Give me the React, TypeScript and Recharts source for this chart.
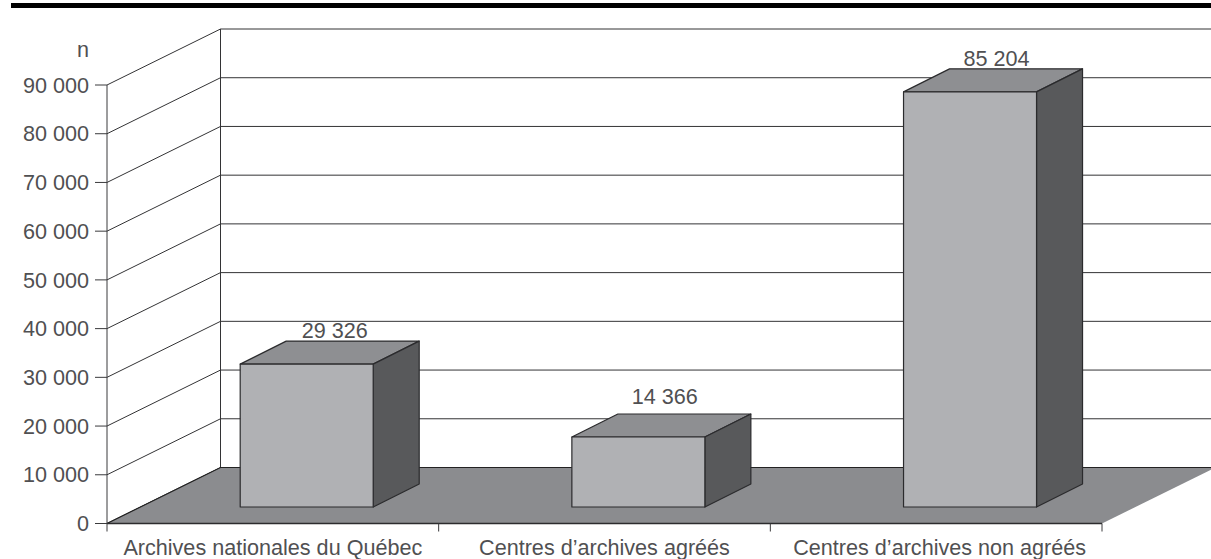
import React from "react";
import { BarChart, Bar, XAxis, YAxis, CartesianGrid, ReferenceArea, LabelList, Label } from "recharts";

const categories = ["Archives nationales du Québec", "Centres d’archives agréés", "Centres d’archives non agréés"];
const counts = [29326, 14366, 85204];
const yTicks = [0, 10000, 20000, 30000, 40000, 50000, 60000, 70000, 80000, 90000];
const unitLabel = "n";

const data = categories.map((name, i) => ({ name, value: counts[i] }));

const W = 1211, H = 559;
const LEFT = 107, RIGHT = 1102, TOP = 85, BOTTOM = 523.5;
const WALL_DX = 113.5, WALL_DY = 56;
const BAR_SHIFT_X = 34.2, BAR_SHIFT_Y = 16.5;
const BAR_DX = 46, BAR_DY = 23;
const INK = "#3a3a3c", LINE = "#333335", TEXT = "#505052";
const FONT = "'Liberation Sans', Arial, sans-serif";
const FS = 21.6;
const fmt = (v: number) => String(v).replace(/\B(?=(\d{3})+$)/g, " ");

function GridLine(p: any) {
  const { x1, y1, x2 } = p;
  const bx = x1 + WALL_DX, by = y1 - WALL_DY;
  return (
    <path key={p.key ?? y1} d={`M${x1},${y1}L${bx},${by}L${x2 + WALL_DX + 10},${by}`} fill="none" stroke={LINE} strokeWidth={1} />
  );
}

function Floor(p: any) {
  const { x, y, width, height } = p;
  const by = y + height, rx = x + width;
  return (
    <g>
      <line x1={x + WALL_DX} y1={y - WALL_DY} x2={x + WALL_DX} y2={by - WALL_DY} stroke={LINE} strokeWidth={1} />
      <path
        d={`M${x},${by}L${x + WALL_DX},${by - WALL_DY}L${rx + WALL_DX},${by - WALL_DY}L${rx},${by}Z`}
        fill="#8b8c8f"
        stroke="none"
      />
      <path d={`M${x},${by}L${x + WALL_DX},${by - WALL_DY}L${rx + WALL_DX},${by - WALL_DY}`} fill="none" stroke="#222" strokeWidth={1.2} />
      <line x1={x} y1={by} x2={rx} y2={by} stroke="#2c2c2e" strokeWidth={1.6} />
    </g>
  );
}

function Box3D(p: any) {
  const { x, y, width, height } = p;
  const fx = x + BAR_SHIFT_X, fy = y - BAR_SHIFT_Y, r = fx + width, b = fy + height;
  const s = { stroke: "#2b2b2d", strokeWidth: 1.2, strokeLinejoin: "round" as const };
  return (
    <g>
      <path d={`M${fx},${fy}L${fx + BAR_DX},${fy - BAR_DY}L${r + BAR_DX},${fy - BAR_DY}L${r},${fy}Z`} fill="#8e8f92" {...s} />
      <path d={`M${r},${fy}L${r + BAR_DX},${fy - BAR_DY}L${r + BAR_DX},${b - BAR_DY}L${r},${b}Z`} fill="#58595b" {...s} />
      <rect x={fx} y={fy} width={width} height={height} fill="#b0b1b4" {...s} />
    </g>
  );
}

function ValueLabel(p: any) {
  const { x, y, width, value, index } = p;
  const lift = index === 1 ? 10 : 3;
  return (
    <text
      x={x + width / 2 + BAR_SHIFT_X + (index === 0 ? 28 : 26.5)}
      y={y - BAR_SHIFT_Y - BAR_DY - lift}
      textAnchor="middle"
      fontFamily={FONT}
      fontSize={FS}
      fill={TEXT}
    >
      {fmt(value)}
    </text>
  );
}

function CategoryTick(p: any) {
  const { x, payload, index } = p;
  const band = (RIGHT - LEFT) / categories.length;
  const y = BOTTOM;
  const nudge = index === 2 ? 3.5 : 0;
  return (
    <g>
      <line x1={x - band / 2} y1={y} x2={x - band / 2} y2={y + 8} stroke={INK} strokeWidth={1} />
      {index === categories.length - 1 && (
        <line x1={x + band / 2} y1={y} x2={x + band / 2} y2={y + 8} stroke={INK} strokeWidth={1} />
      )}
      <text x={x + nudge} y={y + 31} textAnchor="middle" fontFamily={FONT} fontSize={FS} fill={TEXT}>
        {payload.value}
      </text>
    </g>
  );
}

export default function App() {
  return (
    <div style={{ position: "absolute", left: 0, top: 0, width: W, height: H, background: "#fff" }}>
      <div style={{ position: "absolute", left: 11, top: 3, width: W - 11, height: 5, background: "#000" }} />
      <BarChart
        width={W}
        height={H}
        data={data}
        margin={{ top: TOP, right: W - RIGHT, bottom: 0, left: 0 }}
        barSize={133}
      >
        <CartesianGrid vertical={false} horizontal={GridLine as any} />
        <ReferenceArea y1={0} y2={90000} shape={Floor as any} ifOverflow="visible" />
        <XAxis
          dataKey="name"
          height={H - BOTTOM}
          axisLine={false}
          tickLine={false}
          tick={CategoryTick as any}
          interval={0}
        />
        <YAxis
          width={LEFT}
          domain={[0, 90000]}
          ticks={yTicks}
          interval={0}
          tickSize={12}
          tickMargin={6}
          tickFormatter={fmt}
          axisLine={{ stroke: INK, strokeWidth: 1 }}
          tickLine={{ stroke: INK, strokeWidth: 1 }}
          tick={{ fontFamily: FONT, fontSize: FS, fill: TEXT }}
        >
          <Label
            content={(c: any) => (
              <text x={89} y={c.viewBox.y - 28.5} textAnchor="end" fontFamily={FONT} fontSize={FS} fill={TEXT}>
                {unitLabel}
              </text>
            )}
          />
        </YAxis>
        <Bar dataKey="value" isAnimationActive={false} shape={Box3D as any}>
          <LabelList dataKey="value" content={ValueLabel as any} />
        </Bar>
      </BarChart>
    </div>
  );
}
